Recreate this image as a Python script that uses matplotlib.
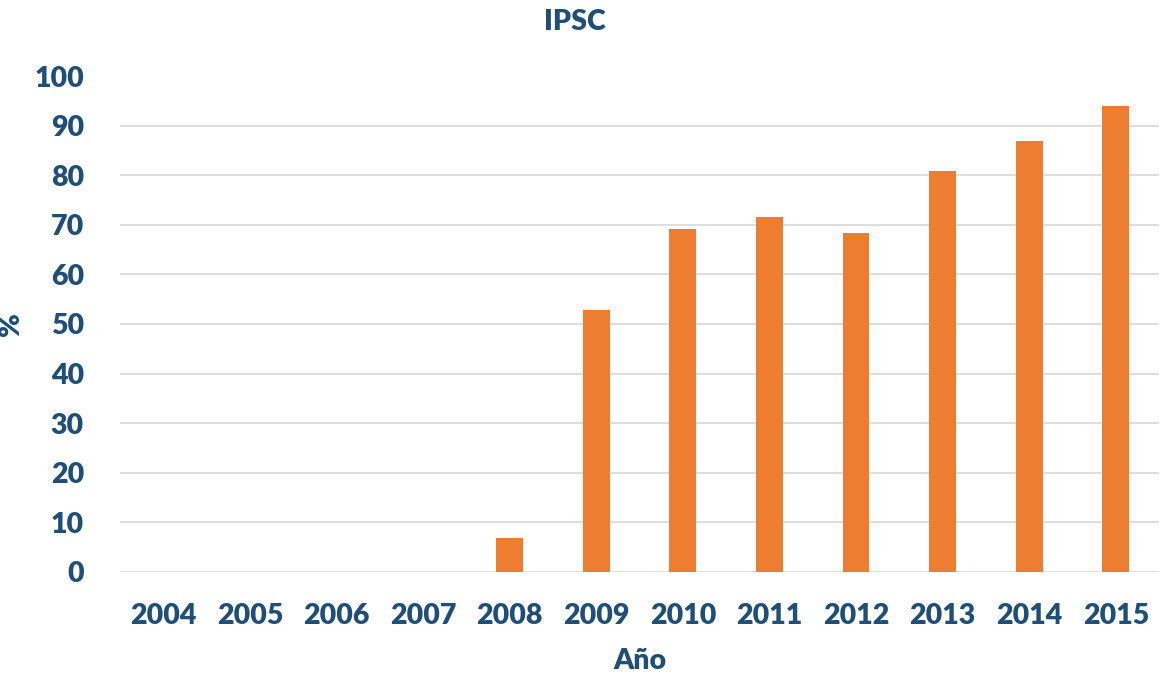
import numpy as np
import matplotlib.pyplot as plt

# IPSC percentages per year
years = ['2004', '2005', '2006', '2007', '2008', '2009',
         '2010', '2011', '2012', '2013', '2014', '2015']
values = [0, 0, 0, 0, 6.9, 52.8, 69.2, 71.6, 68.3, 80.8, 86.8, 94.0]
yticks = [0, 10, 20, 30, 40, 50, 60, 70, 80, 90, 100]

text_col = '#1F4E79'
bar_col = '#ED7D31'

plt.rcParams['font.family'] = ['Lato', 'DejaVu Sans']
plt.rcParams['font.weight'] = 'bold'

fig = plt.figure(figsize=(11.61, 6.75), dpi=100)
ax = fig.add_axes([0.1034, 0.1526, 0.895, 0.7348])

x = np.arange(len(years))
ax.bar(x, values, width=0.31, color=bar_col, zorder=3)

ax.set_xlim(-0.5, len(years) - 0.5)
ax.set_ylim(0, 100)
ax.set_yticks(yticks)
ax.set_xticks(x)
ax.set_xticklabels(years)

ax.grid(axis='y', color='#D9D9D9', linewidth=1.2, zorder=0)
ax.get_ygridlines()[-1].set_visible(False)
for s in ax.spines.values():
    s.set_visible(False)
ax.tick_params(axis='both', length=0, labelsize=20.5, labelcolor=text_col)
ax.tick_params(axis='x', pad=22)
ax.tick_params(axis='y', pad=26)
for lab in ax.get_xticklabels() + ax.get_yticklabels():
    lab.set_fontweight('heavy')

ax.set_xlabel('Año', fontsize=20.5, fontweight='heavy', color=text_col, labelpad=14)
ax.set_ylabel('%', fontsize=20.5, fontweight='heavy', color=text_col)
ax.yaxis.set_label_coords(-0.092, 0.5)
fig.text(0.495, 0.968, 'IPSC', ha='center', va='center', fontsize=20.5,
         fontweight='heavy', color=text_col)

fig.savefig('out.png', dpi=100)
